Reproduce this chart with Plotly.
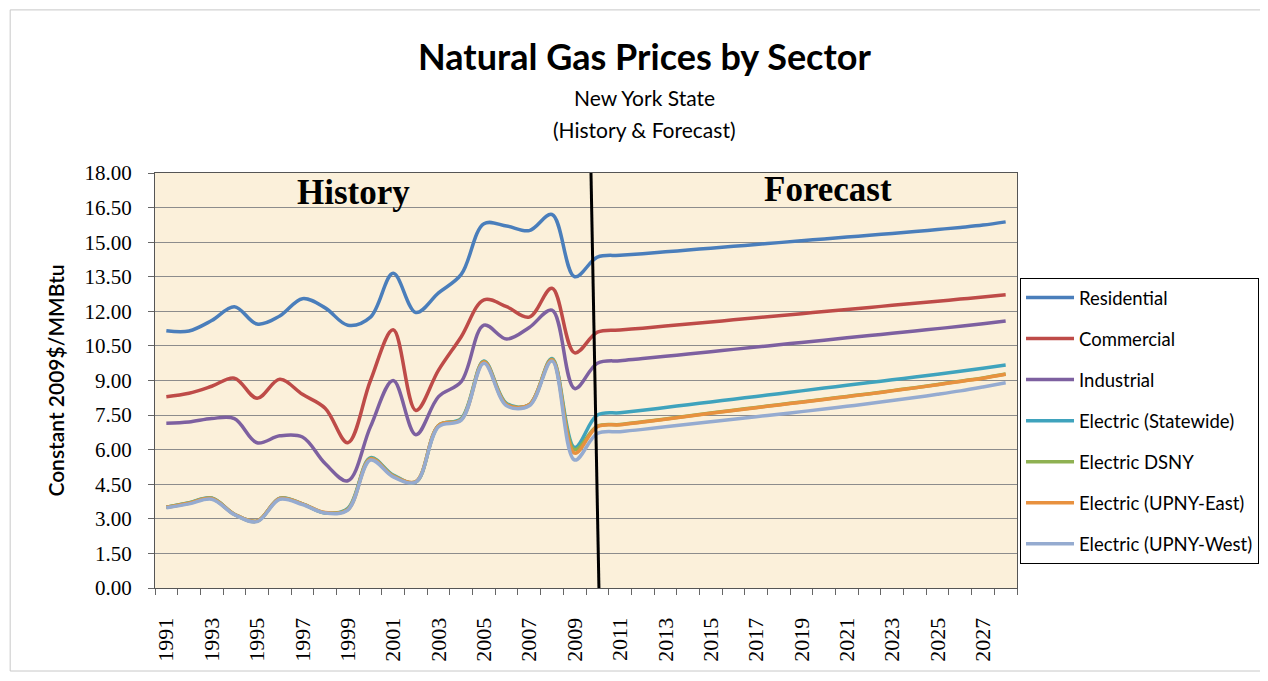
import plotly.graph_objs as go

# years on the x axis (history 1991-2010, forecast 2011-2028)
years = list(range(1991, 2029))

# prices in constant 2009$/MMBtu
residential = [11.16, 11.15, 11.6, 12.2, 11.45, 11.8, 12.55, 12.15, 11.4, 11.75,
               13.65, 11.95, 12.8, 13.6, 15.8, 15.7, 15.5, 16.2, 13.5, 14.35,
               14.43, 14.5, 14.58, 14.66, 14.74, 14.82, 14.9, 14.98, 15.06, 15.14,
               15.22, 15.3, 15.38, 15.46, 15.55, 15.64, 15.74, 15.88]
commercial = [8.3, 8.45, 8.75, 9.1, 8.23, 9.05, 8.4, 7.8, 6.3, 9.0,
              11.2, 7.7, 9.45, 10.9, 12.5, 12.2, 11.75, 13.0, 10.2, 11.1,
              11.19, 11.27, 11.36, 11.45, 11.54, 11.63, 11.72, 11.81, 11.9, 11.99,
              12.08, 12.17, 12.26, 12.35, 12.44, 12.53, 12.62, 12.72]
industrial = [7.15, 7.2, 7.35, 7.35, 6.3, 6.6, 6.55, 5.4, 4.65, 7.0,
              9.0, 6.65, 8.3, 8.95, 11.4, 10.8, 11.3, 12.05, 8.65, 9.75,
              9.86, 9.95, 10.05, 10.15, 10.25, 10.35, 10.45, 10.55, 10.65, 10.75,
              10.85, 10.95, 11.05, 11.15, 11.25, 11.35, 11.46, 11.58]
elec_statewide = [3.5, 3.7, 3.9, 3.2, 2.9, 3.9, 3.65, 3.25, 3.45, 5.65,
                  4.9, 4.6, 7.05, 7.35, 9.85, 8.0, 7.95, 9.95, 6.1, 7.5,
                  7.6, 7.71, 7.83, 7.95, 8.07, 8.19, 8.31, 8.43, 8.55, 8.67,
                  8.79, 8.91, 9.03, 9.15, 9.27, 9.4, 9.53, 9.67]
elec_dsny = [3.5, 3.69, 3.89, 3.2, 2.9, 3.89, 3.65, 3.26, 3.42, 5.62,
             4.87, 4.61, 7.05, 7.32, 9.82, 7.97, 7.95, 9.92, 6.0, 7.02,
             7.09, 7.21, 7.33, 7.46, 7.59, 7.71, 7.83, 7.95, 8.07, 8.19,
             8.31, 8.43, 8.56, 8.69, 8.83, 8.97, 9.11, 9.28]
elec_upny_east = [3.5, 3.68, 3.88, 3.2, 2.9, 3.88, 3.65, 3.27, 3.4, 5.6,
                  4.85, 4.62, 7.05, 7.3, 9.8, 7.95, 7.95, 9.9, 5.85, 7.0,
                  7.08, 7.2, 7.32, 7.45, 7.58, 7.7, 7.82, 7.94, 8.06, 8.18,
                  8.3, 8.42, 8.55, 8.68, 8.82, 8.96, 9.1, 9.27]
elec_upny_west = [3.48, 3.65, 3.85, 3.18, 2.88, 3.85, 3.62, 3.25, 3.38, 5.55,
                  4.82, 4.6, 7.0, 7.28, 9.75, 7.9, 7.9, 9.85, 5.55, 6.7,
                  6.78, 6.88, 6.99, 7.1, 7.21, 7.32, 7.43, 7.54, 7.65, 7.76,
                  7.88, 8.0, 8.13, 8.26, 8.4, 8.55, 8.72, 8.9]

series_names = ['Residential', 'Commercial', 'Industrial', 'Electric (Statewide)',
                'Electric DSNY', 'Electric (UPNY-East)', 'Electric (UPNY-West)']
series_values = [residential, commercial, industrial, elec_statewide,
                 elec_dsny, elec_upny_east, elec_upny_west]
series_colors = ['#4A7EBB', '#BE4B48', '#7D60A0', '#3FA3BD',
                 '#8FB152', '#E8913F', '#95ABD0']

graph = []
for i, (name, vals, col) in enumerate(zip(series_names, series_values, series_colors)):
    graph.append(
        go.Scatter(
            x=years,
            y=vals,
            mode='lines',
            name=name,
            line=dict(color=col, width=3.5, shape='spline', smoothing=1),
            legendgroup='g' + str(i),
        )
    )

serif = 'Liberation Serif'
sans = 'Lato'

# page body adds 8px offset, margins are shifted to compensate;
# figure is wider than the window so the legend runs off the right edge
layout = dict(
    width=1290, height=665,
    margin=dict(l=147, r=281, t=165, b=85),
    paper_bgcolor='white',
    plot_bgcolor='#FBF0DA',
    showlegend=True,
    legend=dict(x=1.0035, y=0.747, xanchor='left', yanchor='top',
                bgcolor='white', bordercolor='black', borderwidth=1,
                font=dict(family=sans, size=18.5, color='black'),
                traceorder='grouped', tracegroupgap=14, itemwidth=48),
    xaxis=dict(range=[1990.5, 2028.5], tick0=1991, dtick=2, tickangle=-90,
               tickfont=dict(family=serif, size=22, color='black'),
               ticks='outside', ticklen=6, tickcolor='rgba(0,0,0,0)',
               ticklabelstandoff=14,
               minor=dict(ticks='outside', tick0=1990.5, dtick=1, ticklen=6,
                          tickcolor='#666', showgrid=False),
               showgrid=False, zeroline=False,
               showline=True, linecolor='#555', linewidth=1, mirror=True),
    yaxis=dict(range=[0, 18], tick0=0, dtick=1.5, tickformat='.2f',
               tickfont=dict(family=serif, size=21, color='black'),
               ticks='outside', ticklen=6, tickcolor='#666', ticklabelstandoff=12,
               showgrid=True, gridcolor='#8C8C8C', gridwidth=1, zeroline=False,
               showline=True, linecolor='#555', linewidth=1, mirror=True,
               title=dict(text='Constant 2009$/MMBtu', standoff=14,
                          font=dict(family=sans, size=21, color='black', weight=600))),
    annotations=[
        dict(text='Natural Gas Prices by Sector', xref='paper', yref='paper',
             x=0.568, y=1.282, xanchor='center', yanchor='middle', showarrow=False,
             font=dict(family=sans, size=36, color='black', weight='bold')),
        dict(text='New York State', xref='paper', yref='paper',
             x=0.568, y=1.183, xanchor='center', yanchor='middle', showarrow=False,
             font=dict(family=sans, size=21, color='black')),
        dict(text='(History & Forecast)', xref='paper', yref='paper',
             x=0.568, y=1.104, xanchor='center', yanchor='middle', showarrow=False,
             font=dict(family=sans, size=21, color='black')),
        dict(text='<b>History</b>', xref='paper', yref='paper',
             x=0.23, y=0.954, xanchor='center', yanchor='middle', showarrow=False,
             font=dict(family=serif, size=35, color='black')),
        dict(text='<b>Forecast</b>', xref='paper', yref='paper',
             x=0.781, y=0.961, xanchor='center', yanchor='middle', showarrow=False,
             font=dict(family=serif, size=35, color='black')),
    ],
    shapes=[
        # history / forecast divider
        dict(type='line', xref='x', yref='y', x0=2009.72, y0=18, x1=2010.07, y1=0,
             line=dict(color='black', width=3)),
        # outer chart border
        dict(type='rect', xref='paper', yref='paper', x0=-0.168, y0=-0.2,
             x1=1.35, y1=1.393, line=dict(color='#C8C8C8', width=1), layer='below'),
    ],
)

fig = go.Figure(data=graph, layout=layout)
fig.write_html("out.html")
